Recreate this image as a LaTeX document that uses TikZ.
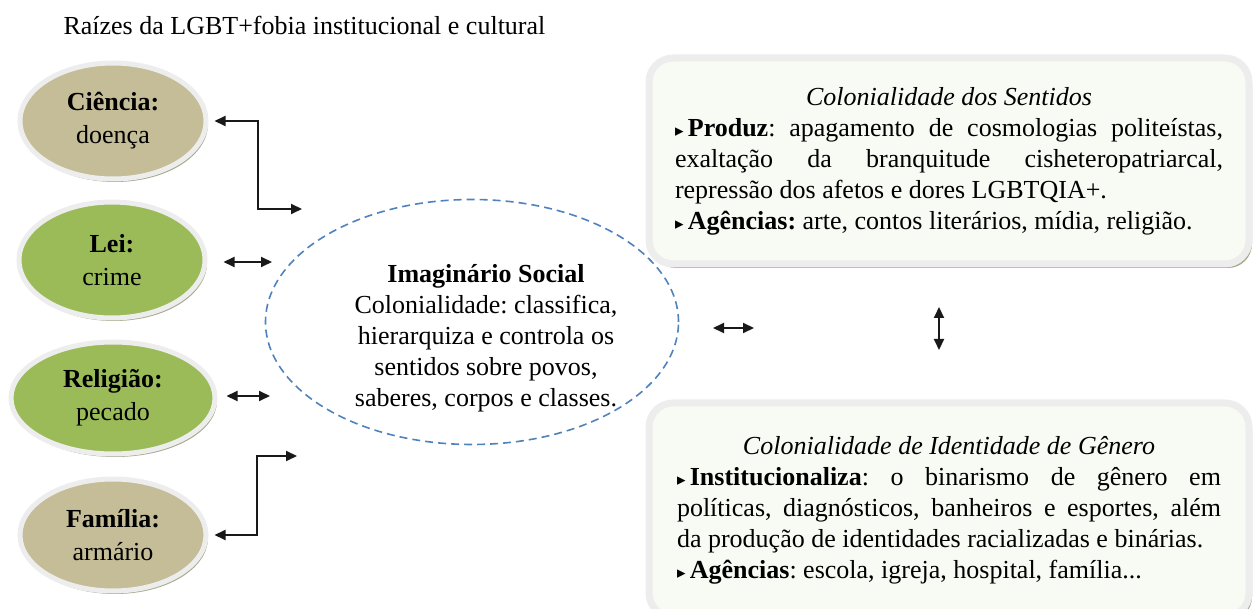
\documentclass[tikz,border=0pt]{standalone}
\usepackage{fontspec}
\setmainfont{Liberation Serif}
\newfontfamily\simbolos{DejaVu Sans}
\usetikzlibrary{arrows.meta,positioning,shapes.geometric,shadows}
\definecolor{raizBege}{HTML}{C4BD97}
\definecolor{raizVerde}{HTML}{9BBB59}
\definecolor{bordaCinza}{HTML}{EDEDED}
\definecolor{sombra}{HTML}{A3AA8C}
\definecolor{caixaFundo}{HTML}{F8FAF4}
\definecolor{azulTracejado}{HTML}{4F81BD}
\newcommand{\marcador}{{\simbolos\fontsize{17}{17}\selectfont ▸}\,}
\frenchspacing
\hyphenpenalty=10000

\begin{document}
\begin{tikzpicture}[x=1pt,y=-1pt,font=\fontsize{26}{31}\selectfont,
	raiz/.style={ellipse,align=center,inner sep=0pt,minimum width=186pt,minimum height=116pt,
		draw=bordaCinza,line width=5pt,
		drop shadow={shadow xshift=2pt,shadow yshift=-3pt,fill=sombra,opacity=1}},
	caixa/.style={rectangle,rounded corners=24pt,fill=caixaFundo,draw=bordaCinza,line width=7pt,
		text width=548pt,align=justify,inner xsep=26pt,minimum height=206pt,
		drop shadow={shadow xshift=3pt,shadow yshift=-4pt,fill=sombra,opacity=1}},
	seta/.style={{Triangle[length=11pt,width=10pt]}-{Triangle[length=11pt,width=10pt]},line width=2pt,draw=black!90}]
	\useasboundingbox (0,0) rectangle (1254,609);

	\node[anchor=west] (titulo) at (60,25) {Raízes da LGBT+fobia institucional e cultural};

	% raizes
	\node[raiz,fill=raizBege] (ciencia) at (113,121) {\textbf{Ciência:}\\[2pt]doença};
	\node[raiz,fill=raizVerde] (lei) at (112,260) {\textbf{Lei:}\\[2pt]crime};
	\node[raiz,fill=raizVerde,minimum width=204pt,minimum height=112pt] (religiao) at (113,398) {\textbf{Religião:}\\[2pt]pecado};
	\node[raiz,fill=raizBege,minimum height=112pt] (familia) at (113,535) {\textbf{Família:}\\[2pt]armário};

	% imaginario
	\node[ellipse,draw=azulTracejado,line width=1.6pt,dash pattern=on 8pt off 5pt,
		minimum width=413pt,minimum height=245pt] (imaginario) at (472,322) {};
	\node[align=center] (imaginarioTexto) at (486,338) {\textbf{Imaginário Social}\\Colonialidade: classifica,\\hierarquiza e controla os\\sentidos sobre povos,\\saberes, corpos e classes.};

	% colonialidades
	\node[caixa] (sentidos) at (949,161) {{\centering\itshape Colonialidade dos Sentidos\par}
		\marcador\textbf{Produz}: apagamento de cosmologias politeístas,\linebreak exaltação da branquitude cisheteropatriarcal,\linebreak repressão dos afetos e dores LGBTQIA+.\par
		\marcador\textbf{Agências:} arte, contos literários, mídia, religião.\par};
	\node[caixa,text width=544pt,inner xsep=28pt,minimum height=214pt] (genero) at (949,510) {{\centering\itshape Colonialidade de Identidade de Gênero\par}
		\marcador\textbf{Institucionaliza}: o binarismo de gênero em\linebreak políticas, diagnósticos, banheiros e esportes, além\linebreak da produção de identidades racializadas e binárias.\par
		\marcador\textbf{Agências}: escola, igreja, hospital, família...\par};

	% setas
	\coordinate (cienciaFim) at (302,209);
	\coordinate (familiaFim) at (297,456);
	\coordinate (leiFim) at (272,262);
	\coordinate (religiaoFim) at (270,396);
	\coordinate (meioIni) at (713,328);
	\coordinate (meioFim) at (754,328);
	\coordinate (caixasIni) at (939,307);
	\coordinate (caixasFim) at (939,350);
	\draw[seta] ([xshift=6pt]ciencia.east) -| (258,209) -- (cienciaFim);
	\draw[seta] ([xshift=6pt]familia.east) -| (257,456) -- (familiaFim);
	\draw[seta] ([xshift=16pt,yshift=-2pt]lei.east) -- (leiFim);
	\draw[seta] ([xshift=9pt,yshift=2pt]religiao.east) -- (religiaoFim);
	\draw[seta] (meioIni) -- (meioFim);
	\draw[seta] (caixasIni) -- (caixasFim);
\end{tikzpicture}
\end{document}
